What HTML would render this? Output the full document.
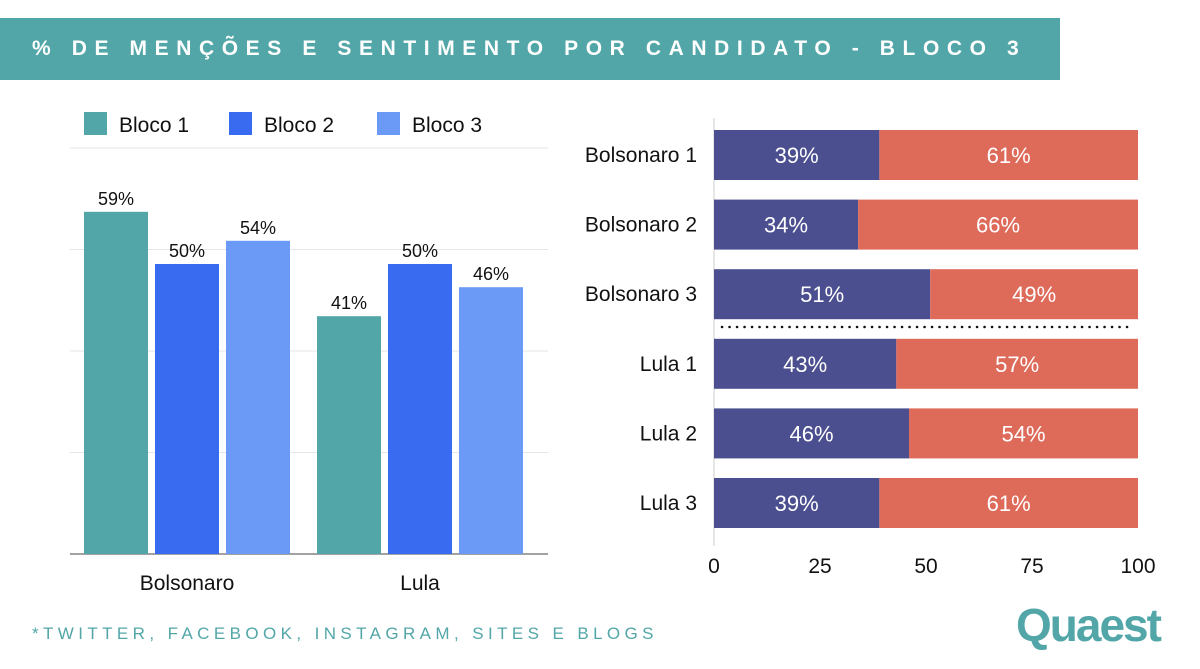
<!DOCTYPE html>
<html><head><meta charset="utf-8"><style>
body{margin:0;width:1200px;height:669px;background:#fff;overflow:hidden;font-family:"Liberation Sans",sans-serif;position:relative}
#hdr{position:absolute;left:0;top:18px;width:1060px;height:62px;background:#52a6a8;color:#fff;font-weight:bold;font-size:21px;letter-spacing:7.6px;line-height:62px;padding-left:32px;box-sizing:border-box;white-space:nowrap}
#foot{position:absolute;left:32px;top:624px;color:#52a6a8;font-size:17px;letter-spacing:4.4px;white-space:nowrap}
#logo{position:absolute;left:1016px;top:598px;color:#52a6a8;font-weight:bold;font-size:46px;letter-spacing:-2px}
svg{position:absolute;left:0;top:0}
</style></head><body>
<div id="hdr">% DE MENÇÕES E SENTIMENTO POR CANDIDATO - BLOCO 3</div>
<div id="foot">*TWITTER, FACEBOOK, INSTAGRAM, SITES E BLOGS</div>
<div id="logo">Quaest</div>
<svg id="c" width="1200" height="669"></svg>
<script>
const groups=["Bolsonaro","Lula"];
const seriesNames=["Bloco 1","Bloco 2","Bloco 3"];
const bloco1=[59,41];
const bloco2=[50,50];
const bloco3=[54,46];
const rows=["Bolsonaro 1","Bolsonaro 2","Bolsonaro 3","Lula 1","Lula 2","Lula 3"];
const negative=[39,34,51,43,46,39];
const positive=[61,66,49,57,54,61];
const xTicks=[0,25,50,75,100];

const svg=document.getElementById('c');const NS='http://www.w3.org/2000/svg';
function mk(t,a,txt){const e=document.createElementNS(NS,t);for(const k in a)e.setAttribute(k,a[k]);if(txt!=null)e.textContent=txt;svg.appendChild(e);return e;}
const colors=["#52a6a8","#386bf0","#6a9af5"];
const base=554,ppu=5.8;const ly=v=>base-v*ppu;
for(let i=1;i<=4;i++){const g=mk('line',{x1:70,x2:548,y1:base-i*101.5,y2:base-i*101.5,stroke:'#e6e6e6','stroke-width':1});

}
const axis=mk('line',{x1:70,x2:548,y1:base,y2:base,stroke:'#444','stroke-width':1});


seriesNames.forEach((n,i)=>{const lx=[84,229,377][i];
const r=mk('rect',{x:lx,y:112,width:23,height:23,fill:colors[i]});


const t=mk('text',{x:lx+35,y:132,'font-size':21,fill:'#111'},n);

});
const series=[bloco1,bloco2,bloco3];
groups.forEach((g,gi)=>{const gx=84+gi*233;
series.forEach((s,si)=>{const x=gx+si*71,v=s[gi];
const b=mk('rect',{x:x,y:ly(v),width:64,height:v*ppu,fill:colors[si]});


const t=mk('text',{x:x+32,y:ly(v)-7,'font-size':18,'text-anchor':'middle',fill:'#111'},v+'%');

});
const c=mk('text',{x:gx+103,y:590,'font-size':21,'text-anchor':'middle',fill:'#111'},g);

});
const x0=714,pu=4.24;const rx=v=>x0+v*pu;
const va=mk('line',{x1:x0,x2:x0,y1:118,y2:546,stroke:'#ccc','stroke-width':1});


xTicks.forEach(v=>{const t=mk('text',{x:rx(v),y:573,'font-size':21,'text-anchor':'middle',fill:'#111'},v);

});
rows.forEach((r,i)=>{const cy=155+i*69.6,y=cy-25;
const a=mk('rect',{x:rx(0),y:y,width:negative[i]*pu,height:50,fill:'#4b4f8f'});


const b=mk('rect',{x:rx(negative[i]),y:y,width:positive[i]*pu,height:50,fill:'#de6a5a'});


const t1=mk('text',{x:rx(negative[i]/2),y:cy+8,'font-size':22,'text-anchor':'middle',fill:'#fff'},negative[i]+'%');


const t2=mk('text',{x:rx(negative[i]+positive[i]/2),y:cy+8,'font-size':22,'text-anchor':'middle',fill:'#fff'},positive[i]+'%');


const l=mk('text',{x:697,y:cy+7,'font-size':21,'text-anchor':'end',fill:'#111'},r);

});
const d=mk('line',{x1:722,x2:1134,y1:327,y2:327,stroke:'#111','stroke-width':2.5,'stroke-dasharray':'0.1 7.4','stroke-linecap':'round'});


</script>
</body></html>
